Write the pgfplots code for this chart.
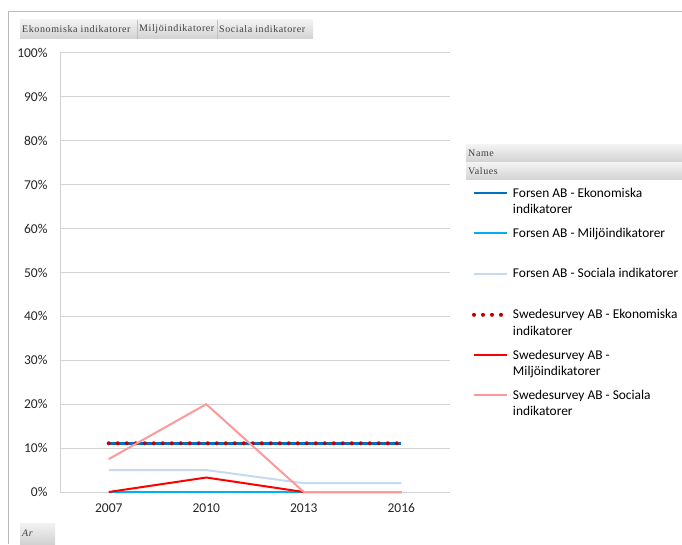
\documentclass[border=0pt]{standalone}
\usepackage{pgfplots}
\pgfplotsset{compat=1.18}
\usepackage{fontspec}
\setmainfont{Carlito}
\newfontfamily\btnfont[LetterSpace=6]{Liberation Serif}
\definecolor{fEko}{RGB}{0,112,192}
\definecolor{fMil}{RGB}{0,176,240}
\definecolor{fSoc}{RGB}{197,217,241}
\definecolor{sEko}{RGB}{192,0,0}
\definecolor{sMil}{RGB}{255,0,0}
\definecolor{sSoc}{RGB}{255,153,153}
\definecolor{gridc}{RGB}{210,210,210}
\definecolor{txt}{RGB}{64,64,64}
\newcommand{\entry}[1]{\parbox[t][39.2pt][t]{172pt}{\fontsize{13.4pt}{16.5pt}\selectfont\strut #1}}
\begin{document}
\begin{tikzpicture}[x=1pt,y=1pt]
\useasboundingbox (0pt,0pt) rectangle (682pt,544pt);
% outer frame
\draw[gray!55, line width=1pt] (8pt,0pt) -- (8pt,532pt) -- (682pt,532pt);
% top field buttons
\shade[top color=gray!10, bottom color=gray!35] (20pt,505pt) rectangle (313pt,524pt);
\draw[gray!50, line width=0.5pt] (137pt,505pt) -- (137pt,524pt) (217pt,505pt) -- (217pt,524pt);
\node[anchor=west, inner sep=0pt, text=txt, font=\btnfont\fontsize{10pt}{11pt}\selectfont] at (22pt,514.5pt) {Ekonomiska indikatorer};
\node[anchor=west, inner sep=0pt, text=txt, font=\btnfont\fontsize{10pt}{11pt}\selectfont] at (139pt,514.5pt) {Miljöindikatorer};
\node[anchor=west, inner sep=0pt, text=txt, font=\btnfont\fontsize{10pt}{11pt}\selectfont] at (219pt,514.5pt) {Sociala indikatorer};
% legend header buttons
\shade[top color=gray!10, bottom color=gray!35] (466pt,382pt) rectangle (682pt,399pt);
\shade[top color=gray!10, bottom color=gray!35] (466pt,364pt) rectangle (682pt,381pt);
\node[anchor=west, inner sep=0pt, text=txt, font=\btnfont\fontsize{10pt}{11pt}\selectfont] at (468pt,390.5pt) {Name};
\node[anchor=west, inner sep=0pt, text=txt, font=\btnfont\fontsize{10pt}{11pt}\selectfont] at (468pt,372.5pt) {Values};
% Ar button
\shade[top color=gray!10, bottom color=gray!35] (20pt,0pt) rectangle (55pt,21pt);
\node[anchor=west, inner sep=0pt, text=txt, font=\btnfont\itshape\fontsize{10pt}{11pt}\selectfont] at (22pt,11pt) {Ar};
\begin{axis}[
  at={(60pt,52pt)}, anchor=south west,
  scale only axis, width=390pt, height=439pt,
  xmin=-0.5, xmax=3.5, ymin=0, ymax=100,
  xtick={0,1,2,3}, xticklabels={2007,2010,2013,2016},
  ytick={0,10,...,100},
  yticklabel={\pgfmathprintnumber{\tick}\%},
  major tick length=0pt,
  ymajorgrids, grid style={gridc, line width=1pt},
  axis x line=bottom, axis y line=left,
  axis line style={gridc, line width=1pt, -},
  tick label style={font=\fontsize{13.5pt}{15pt}\selectfont, text=black!85},
  /pgf/number format/assume math mode=true,
  yticklabel style={xshift=-9pt},
  xticklabel style={yshift=-8pt},
  clip=false,
  legend style={at={(1.0564,0.7005)}, anchor=north west, draw=none, fill=none,
    inner sep=0pt, outer sep=0pt, row sep=0pt, column sep=4pt,
    cells={anchor=north west}, nodes={inner sep=0pt, outer sep=0pt, text depth=}},
  legend image code/.code={\path (0pt,0pt); \draw[#1] (0pt,-7.5pt) -- (33pt,-7.5pt);},
]
\addplot[fEko, line width=2.5pt, mark=none] coordinates {(0,11.1) (1,11.1) (2,11.1) (3,11.1)};
\addlegendentry{\entry{Forsen AB - Ekonomiska\\indikatorer}}
\addplot[fMil, line width=2pt, mark=none] coordinates {(0,0) (1,0) (2,0) (3,0)};
\addlegendentry{\entry{Forsen AB - Miljöindikatorer}}
\addplot[fSoc, line width=2pt, mark=none] coordinates {(0,5) (1,5) (2,2) (3,2)};
\addlegendentry{\entry{Forsen AB - Sociala indikatorer}}
\addplot[sEko, line width=4pt, line cap=round, dash pattern=on 0pt off 9pt, mark=none] coordinates {(0,11.1) (1,11.1) (2,11.1) (3,11.1)};
\addlegendentry{\entry{Swedesurvey AB - Ekonomiska\\indikatorer}}
\addplot[sMil, line width=2pt, mark=none] coordinates {(0,0) (1,3.3) (2,0) (3,0)};
\addlegendentry{\entry{Swedesurvey AB -\\Miljöindikatorer}}
\addplot[sSoc, line width=2pt, mark=none] coordinates {(0,7.5) (1,20) (2,0) (3,0)};
\addlegendentry{\entry{Swedesurvey AB - Sociala\\indikatorer}}
\end{axis}
\end{tikzpicture}
\end{document}
